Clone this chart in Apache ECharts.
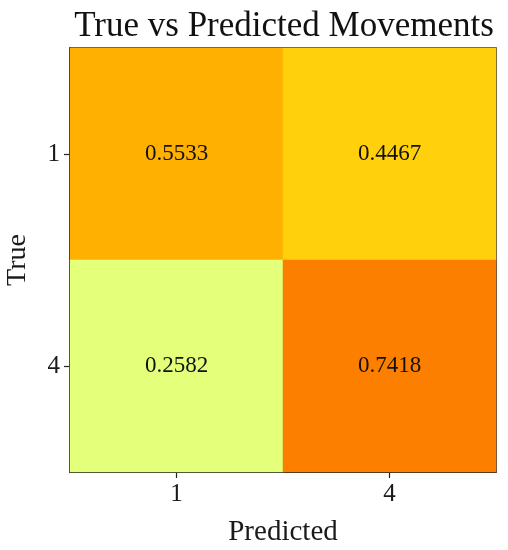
<!DOCTYPE html>
<html><head><meta charset="utf-8">
<script src="https://cdn.jsdelivr.net/npm/echarts@6/dist/echarts.min.js"></script>
<style>html,body{margin:0;padding:0;background:#fff}#c{width:508px;height:550px}</style>
</head><body><div id="c"></div>
<script>
const xCategories = ['1', '4'];
const yCategories = ['1', '4'];
const row1 = [0.5533, 0.4467];
const row4 = [0.2582, 0.7418];
const rows = [row1, row4];
const data = [];
rows.forEach((r, yi) => r.forEach((v, xi) => data.push([xi, yi, v])));
const vmin = Math.min(...row1, ...row4), vmax = Math.max(...row1, ...row4);
const FONT = '"Liberation Serif", "DejaVu Serif", serif';
const chart = echarts.init(document.getElementById('c'));
chart.setOption({
  animation: false,
  backgroundColor: '#fff',
  title: {
    text: 'True vs Predicted Movements',
    left: 279, top: 4, textAlign: 'center',
    textStyle: {fontFamily: FONT, fontSize: 35, fontWeight: 'normal', color: '#111'}
  },
  grid: {left: 70, right: 12, top: 48, bottom: 78, containLabel: false, outerBoundsMode: 'none',
    show: true, borderColor: '#151515', borderWidth: 1.5, backgroundColor: 'transparent'},
  xAxis: {
    type: 'category', data: xCategories,
    name: 'Predicted', nameLocation: 'middle', nameGap: 46,
    nameTextStyle: {fontFamily: FONT, fontSize: 29, color: '#1a1a1a'},
    axisLine: {show: true, lineStyle: {color: '#151515', width: 1.5}},
    axisTick: {show: true, alignWithLabel: true, length: 6, lineStyle: {color: '#222', width: 1.2}},
    axisLabel: {fontFamily: FONT, fontSize: 25, color: '#1a1a1a', margin: 10},
    splitArea: {show: false}, splitLine: {show: false}
  },
  yAxis: {
    type: 'category', data: yCategories, inverse: true,
    name: 'True', nameLocation: 'middle', nameGap: 38, nameRotate: 90,
    nameTextStyle: {fontFamily: FONT, fontSize: 28, color: '#1a1a1a'},
    axisLine: {show: true, lineStyle: {color: '#151515', width: 1.5}},
    axisTick: {show: true, alignWithLabel: true, length: 6, lineStyle: {color: '#222', width: 1.2}},
    axisLabel: {fontFamily: FONT, fontSize: 25, color: '#1a1a1a', margin: 10},
    splitArea: {show: false}, splitLine: {show: false}
  },
  visualMap: {
    show: false, min: vmin, max: vmax, dimension: 2,
    inRange: {color: ['#e4ff7a', '#ffe81a', '#ffbd00', '#ffa000', '#fc7f00']}
  },
  series: [{
    type: 'heatmap', data: data,
    label: {show: true, fontFamily: FONT, fontSize: 23, color: '#111',
      formatter: p => p.value[2].toFixed(4)},
    itemStyle: {borderWidth: 0}
  }]
});
</script></body></html>
